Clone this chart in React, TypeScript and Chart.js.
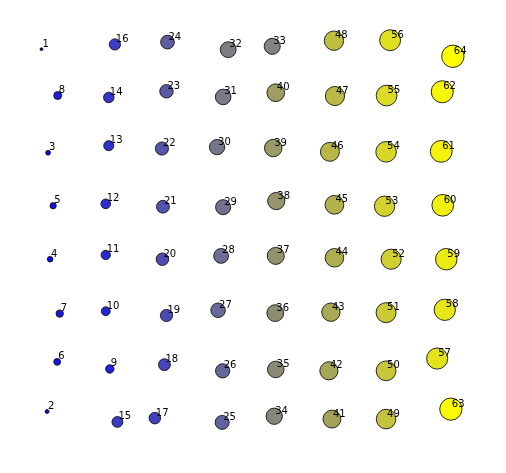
import React, { useEffect, useRef } from "react";
import { Chart, registerables } from "chart.js";

Chart.register(...registerables);

// Point labels (also the bubble value)
const labels: number[] = Array.from({ length: 64 }, (_, i) => i + 1);

// x positions (arbitrary units 0..10)
const xValues: number[] = [
  0.82, 0.93, 0.95, 0.99, 1.05, 1.13, 1.18, 1.14,
  2.17, 2.09, 2.09, 2.09, 2.15, 2.15, 2.32, 2.27,
  3.06, 3.25, 3.29, 3.21, 3.22, 3.2, 3.29, 3.31,
  4.39, 4.4, 4.31, 4.37, 4.41, 4.29, 4.41, 4.51,
  5.38, 5.42, 5.45, 5.44, 5.45, 5.46, 5.4, 5.45,
  6.56, 6.5, 6.54, 6.61, 6.61, 6.52, 6.62, 6.6,
  7.63, 7.63, 7.63, 7.73, 7.6, 7.63, 7.64, 7.71,
  8.64, 8.79, 8.82, 8.75, 8.72, 8.74, 8.91, 8.95,
];

// y positions (arbitrary units 0..10)
const yValues: number[] = [
  8.96, 1.3, 6.77, 4.52, 5.65, 2.35, 3.37, 7.98,
  2.2, 3.42, 4.61, 5.69, 6.92, 7.94, 1.08, 9.06,
  1.16, 2.29, 3.33, 4.52, 5.63, 6.86, 8.07, 9.11,
  1.07, 2.16, 3.44, 4.59, 5.62, 6.89, 7.95, 8.95,
  9.02, 1.2, 2.19, 3.38, 4.59, 5.75, 6.87, 8.04,
  1.14, 2.16, 3.4, 4.55, 5.67, 6.79, 7.97, 9.14,
  1.14, 2.16, 3.39, 4.52, 5.64, 6.79, 7.98, 9.15,
  2.42, 3.45, 4.52, 5.66, 6.8, 8.06, 1.35, 8.81,
];

const W = 506;
const H = 473;
const PAD = 1.4 * Math.sqrt(64) + 1; // chart area inset Chart.js adds for bubbles

function colorFor(v: number): string {
  const t = (v - 1) / 63;
  let r: number, g: number, b: number;
  if (t <= 0.5) {
    const f = t / 0.5;
    r = 128 * f;
    g = 128 * f;
    b = 255 - 127 * f;
  } else {
    const f = (t - 0.5) / 0.5;
    r = 128 + 127 * f;
    g = 128 + 127 * f;
    b = 128 - 128 * f;
  }
  return `rgb(${Math.round(r)},${Math.round(g)},${Math.round(b)})`;
}

const labelPlugin = {
  id: "pointLabels",
  afterDatasetsDraw(chart: any) {
    const ctx = chart.ctx;
    const meta = chart.getDatasetMeta(0);
    ctx.save();
    ctx.font = '10px "DejaVu Sans"';
    ctx.fillStyle = "#000";
    ctx.textAlign = "left";
    ctx.textBaseline = "alphabetic";
    meta.data.forEach((el: any, i: number) => {
      ctx.fillText(String(labels[i]), el.x + 1, el.y - 2.5);
    });
    ctx.restore();
  },
};

export default function App() {
  const ref = useRef<HTMLCanvasElement | null>(null);
  useEffect(() => {
    document.body.style.margin = "0";
    const data = labels.map((v, i) => ({ x: xValues[i], y: yValues[i] }));
    const kx = W / 10;
    const ky = H / 10;
    const chart = new Chart(ref.current as HTMLCanvasElement, {
      type: "bubble",
      data: {
        datasets: [
          {
            data,
            backgroundColor: labels.map(colorFor),
            borderColor: "rgba(20,20,20,0.9)",
            borderWidth: 1,
            hoverRadius: 0,
            radius: (c: any) => 1.4 * Math.sqrt(labels[c.dataIndex]),
          } as any,
        ],
      },
      options: {
        animation: false,
        responsive: false,
        events: [],
        layout: { padding: 0 },
        plugins: { legend: { display: false }, tooltip: { enabled: false } },
        scales: {
          x: { type: "linear", min: PAD / kx, max: 10 - PAD / kx, display: false },
          y: { type: "linear", min: PAD / ky, max: 10 - PAD / ky, display: false },
        },
      },
      plugins: [labelPlugin],
    });
    return () => chart.destroy();
  }, []);
  return (
    <div style={{ width: W, height: H, background: "#fff" }}>
      <canvas ref={ref} width={W} height={H} style={{ display: "block" }} />
    </div>
  );
}
